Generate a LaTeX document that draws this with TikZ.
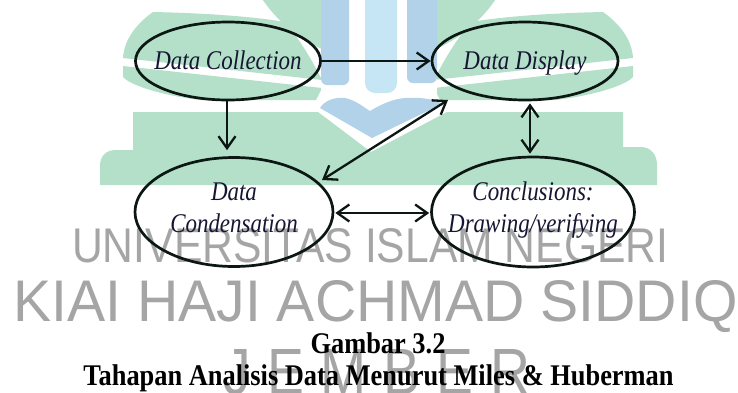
\documentclass[tikz,border=0pt]{standalone}
\usepackage{fontspec}
\setmainfont{Liberation Serif}
\newfontfamily\wmfont{Liberation Sans}
\usetikzlibrary{arrows.meta,calc,shapes.geometric}
\definecolor{wmgreen}{RGB}{180,224,202}
\definecolor{wmblue}{RGB}{178,210,234}
\definecolor{wmlblue}{RGB}{198,230,245}
\definecolor{wmgray}{RGB}{165,165,165}
\definecolor{ink}{RGB}{12,22,18}
\definecolor{txtink}{RGB}{22,22,50}
\begin{document}
\begin{tikzpicture}[x=1pt,y=-1pt,
  stage/.style={ellipse, draw=ink, line width=2.7pt, inner sep=0pt, text=txtink,
    font=\fontsize{27}{32}\selectfont\itshape},
  oneline/.style={text height=16pt, text depth=0pt},
  twoline/.style={text height=10pt, text depth=34pt},
  conn/.style={draw=ink, line width=2.3pt, -{Straight Barb[length=12pt,width=17pt]}},
  conn2/.style={draw=ink, line width=2.3pt, {Straight Barb[length=12pt,width=17pt]}-{Straight Barb[length=12pt,width=17pt]}},
  wm/.style={anchor=base west, inner sep=0pt, text=wmgray},
  capt/.style={anchor=base, inner sep=0pt, font=\fontsize{30}{34}\selectfont\bfseries}
]
\useasboundingbox (0,0) rectangle (738,392);
\fill[white] (0,0) rectangle (738,392);

% ---- watermark logo ----
\fill[wmgreen] (133,112) -- (318,112) -- (371,152) -- (447,112) -- (623,112) -- (623,147)
  -- (641,147) .. controls (651,147) and (657,155) .. (657,165) -- (657,185) -- (100,185)
  -- (100,166) .. controls (100,156) and (106,150) .. (116,150) -- (133,150) -- cycle;
% left leaf
\fill[wmgreen] (153,12) .. controls (200,13) and (250,16) .. (285,22)
  .. controls (300,40) and (312,60) .. (322,80) -- (123,58)
  .. controls (124,40) and (136,24) .. (153,12) -- cycle;
\fill[wmgreen] (123,66) -- (322,88) -- (316,100) -- (200,100)
  .. controls (160,95) and (130,85) .. (123,77) -- cycle;
% right leaf
\fill[wmgreen] (603,12) .. controls (556,13) and (506,16) .. (471,22)
  .. controls (456,40) and (444,60) .. (434,80) -- (633,58)
  .. controls (632,40) and (620,24) .. (603,12) -- cycle;
\fill[wmgreen] (633,66) -- (434,88) -- (440,100) -- (556,100)
  .. controls (596,95) and (626,85) .. (633,77) -- cycle;
% dome
\fill[wmgreen] (379,-80) circle[radius=141pt];
\fill[white] (321,-2) rectangle (437,100);
% bars
\fill[wmblue, rounded corners=6pt] (321,-10) -- (349,-10) -- (349,85) -- (321,85) -- cycle;
\fill[wmlblue, rounded corners=10pt] (365,-10) -- (397,-10) -- (397,93) -- (365,93) -- cycle;
\fill[wmblue, rounded corners=6pt] (407,-10) -- (437,-10) -- (437,83) -- (407,83) -- cycle;
% chevron
\fill[wmblue] (320,108) .. controls (325,100) and (335,97) .. (345,98)
  .. controls (355,100) and (362,106) .. (370,111)
  .. controls (380,105) and (392,99) .. (405,98)
  .. controls (420,97) and (435,99) .. (442,104) -- (372,138) -- cycle;

% ---- watermark text ----
\node[wm] (wm1) at (72,262) {\resizebox{596pt}{34pt}{\wmfont UNIVERSITAS ISLAM NEGERI}};
\node[wm] (wm2) at (13,321) {\resizebox{724pt}{41pt}{\wmfont KIAI HAJI ACHMAD SIDDIQ}};
\node[wm] (wm3) at (223,394) {\resizebox{307pt}{45pt}{\wmfont J\hspace{0.3em}E\hspace{0.3em}M\hspace{0.3em}B\hspace{0.3em}E\hspace{0.3em}R}};

% ---- diagram ----
\node[stage, oneline, minimum width=185pt, minimum height=78pt] (col) at (228,61)
  {\makebox[0pt]{\scalebox{0.85}[1]{Data Collection}}};
\node[stage, oneline, minimum width=186pt, minimum height=78pt] (dis) at (525,61)
  {\makebox[0pt]{\scalebox{0.85}[1]{Data Display}}};
\node[stage, twoline, minimum width=198pt, minimum height=109pt] (con) at (234,212)
  {\makebox[0pt]{\scalebox{0.85}[1]{\begin{tabular}[t]{@{}c@{}}Data\\Condensation\end{tabular}}}};
\node[stage, twoline, minimum width=203pt, minimum height=110pt] (conc) at (533,212)
  {\makebox[0pt]{\scalebox{0.85}[1]{\begin{tabular}[t]{@{}c@{}}Conclusions:\\Drawing/verifying\end{tabular}}}};

\coordinate (downA) at ($(col.south)+(-1,0)$);
\coordinate (downB) at (downA |- con.north);
\draw[conn, shorten >=6pt] (downA) -- (downB);
\draw[conn2] ($(dis.south)+(5,2)$) -- ($(conc.north)+(-3,-2)$);
\draw[conn] (col.east) -- (dis.west);
\draw[conn2] ($(con.center)+(88,-32)$) -- ($(dis.center)+(-77,39)$);
\draw[conn2] ($(con.east)+(1,1)$) -- ($(conc.west)+(-1,1)$);

% ---- caption ----
\node[capt] (cap1) at (378,353) {\scalebox{0.88}[1]{Gambar 3.2}};
\node[capt] (cap2) at (378.5,385) {\scalebox{0.88}[1]{Tahapan Analisis Data Menurut Miles \& Huberman}};
\end{tikzpicture}
\end{document}
